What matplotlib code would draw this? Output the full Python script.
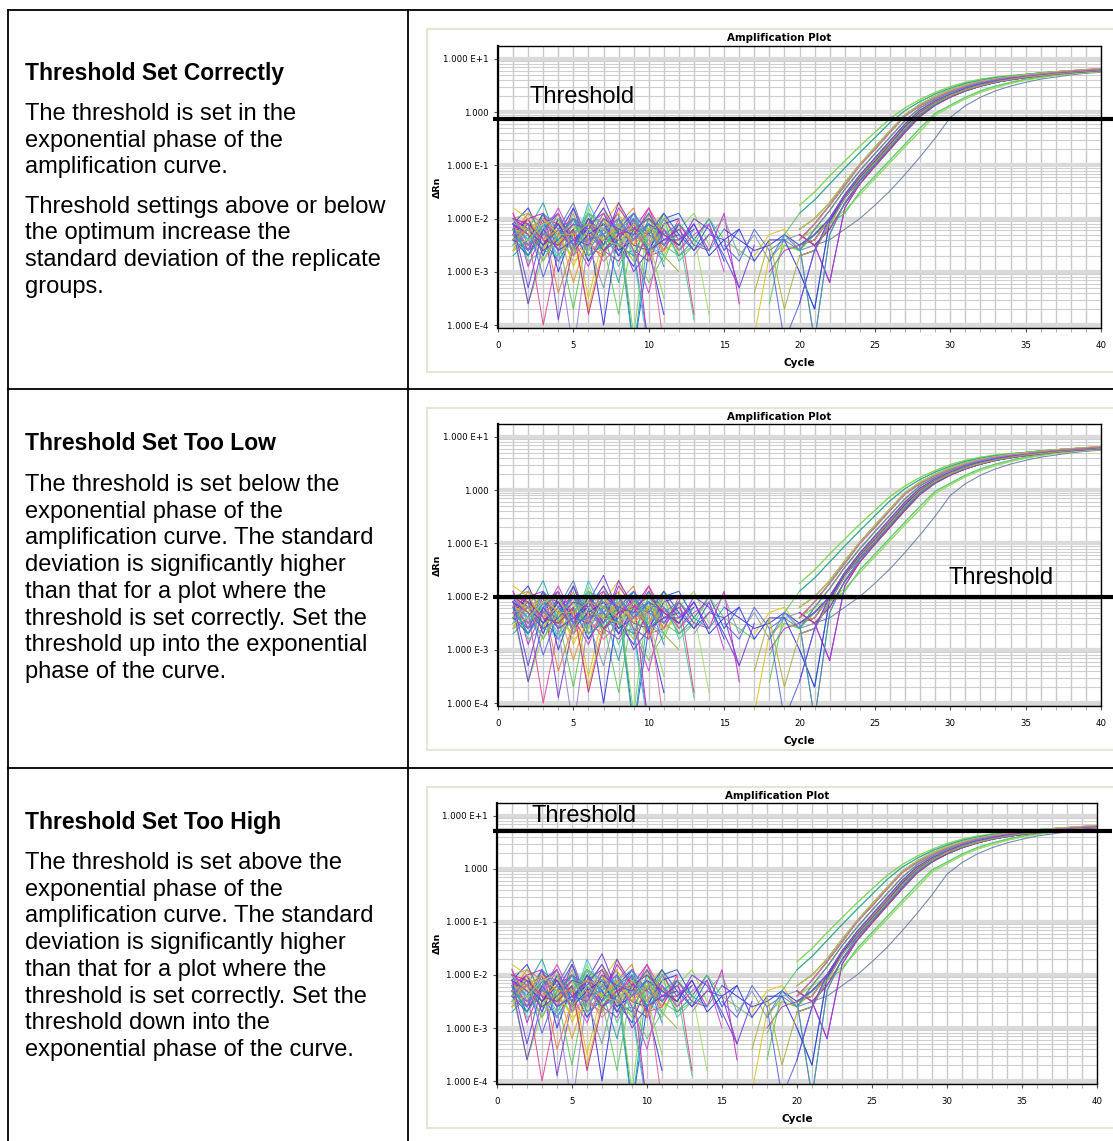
import matplotlib
matplotlib.use("Agg")
import matplotlib.pyplot as plt
import numpy as np
from matplotlib.patches import Rectangle
from matplotlib.lines import Line2D
from matplotlib.ticker import FixedLocator, FixedFormatter, LogLocator, MultipleLocator, NullFormatter

W, H = 1113, 1141
N = None

# log10(delta Rn) per cycle, baseline part (cycles 1-19); None = no value (negative signal)
baseline_log = [
    [-1.9, -2.9, -2.2, -2.6, -1.8, -2.4, -2.0, -2.7, -2.2, -1.8, -2.5, -2.1, N, N, N, N, N, N, N],
    [-2.1, -1.8, -2.4, -2.8, -2.3, -1.9, -2.1, -2.5, -2.9, -2.2, -2.6, N, N, N, N, N, N, N, N],
    [-2.3, -3.6, -2.7, -2.0, -2.6, -1.8, -2.4, -2.1, -2.5, -1.9, -2.7, -2.2, -1.9, -2.5, N, N, N, N, N],
    [-1.8, -2.0, -2.5, -2.0, -2.9, -2.3, -2.1, -1.7, -2.4, -2.7, -2.2, N, N, N, N, N, -2.7, -2.3, -2.2],
    [-2.5, -2.2, -1.7, -2.5, -2.2, -2.8, -2.3, -3.2, -2.0, -2.5, -1.9, -2.6, -2.2, N, N, N, N, N, N],
    [-2.0, -2.2, -2.0, -3.9, -2.5, -2.1, -1.9, -2.5, -2.1, -2.7, N, N, N, N, N, N, N, N, N],
    [-2.2, -2.7, -2.1, -2.3, -1.8, -2.6, -2.2, -1.9, -4.5, -2.6, -2.0, -1.9, -2.4, -2.0, -2.6, -2.2, N, N, N],
    [-2.6, -2.4, -1.9, -2.4, -3.7, -2.2, -1.8, -2.5, -2.7, -2.1, -2.5, -2.7, -2.5, N, N, N, N, -3.6, -2.3],
    [-2.0, -2.3, -4.0, -2.6, -2.0, -2.5, -2.7, -2.0, -2.4, -1.8, -2.3, N, N, N, N, N, N, N, N],
    [-2.3, -2.1, -2.6, -2.0, -2.7, -2.0, -2.5, -3.8, -2.2, -2.5, -2.8, -2.1, -2.5, -2.0, -2.4, -2.6, -2.8, N, N],
    [-2.1, -2.4, -1.9, -3.0, -2.2, -2.8, -2.4, -2.2, -1.9, -2.6, -3.8, N, N, N, N, N, N, N, N],
    [-2.4, -2.0, -2.5, -2.2, -1.7, -2.5, -2.1, -2.7, -2.6, -4.4, N, N, N, N, N, N, N, -2.6, -2.4],
    [-2.2, -2.2, -2.0, -2.5, -2.1, -3.5, -2.3, -1.9, -2.5, -2.2, -1.9, -2.7, N, N, N, N, N, N, N],
    [-2.0, -2.6, -2.1, -1.9, -2.7, -2.1, -1.6, -2.3, -2.6, -2.8, -2.2, -2.5, -2.0, -2.2, -2.7, -3.3, N, N, N],
    [-2.7, -2.4, -2.2, -2.1, -2.5, -1.9, -2.6, -2.2, -4.5, -2.2, -2.6, N, N, N, N, N, N, N, N],
    [-2.1, -2.8, -2.6, -2.7, -2.2, -2.6, -2.0, -2.5, -2.1, -2.0, -2.5, -2.3, -3.9, N, N, N, N, N, N],
    [-2.3, -1.9, -2.1, -3.4, -2.5, -2.0, -2.7, -2.1, -1.8, -2.8, -2.1, N, N, N, N, N, N, N, N],
    [-2.0, -2.2, -2.5, -2.2, -2.0, -2.3, -2.6, -2.8, -2.3, -2.1, -2.6, -2.1, -2.5, -2.6, -1.9, -3.6, N, -3.0, -2.6],
    [-2.5, -2.3, -2.8, -2.2, -2.6, -1.7, -2.3, -2.1, -2.7, -4.5, N, N, N, N, N, N, N, N, N],
    [-2.2, -2.5, -2.1, -2.6, -4.5, -2.4, -2.0, -2.6, -2.0, -2.3, -2.5, N, N, N, N, N, N, N, N],
    [-2.4, -2.6, -2.0, -2.1, -2.3, -2.1, -2.5, -1.8, -2.2, -2.5, -2.0, -2.4, -2.1, -2.6, N, N, N, N, N],
    [-2.0, -1.9, -2.3, -2.5, -1.9, -2.7, -2.3, -2.6, -2.1, -2.2, -2.7, -3.0, N, N, N, N, N, N, N],
    [-2.3, -2.0, -2.7, -2.0, -2.4, -2.2, -4.0, -2.2, -2.5, -2.6, -2.1, -2.0, N, N, -2.2, -2.4, -2.6, -2.5, -2.3],
    [-2.1, -2.2, -2.5, -2.4, -2.7, -1.9, -2.2, -2.1, -4.2, -1.9, -2.3, N, N, N, N, N, N, N, N],
    [-2.6, -2.5, -2.2, -2.3, -2.1, -2.5, -2.0, -2.3, -2.6, -2.2, -2.1, -2.6, -2.3, -3.8, N, N, N, N, N],
    [-2.2, -2.0, -1.9, -2.6, -2.4, -2.1, -2.6, -2.4, -2.0, -4.5, N, N, N, N, N, N, N, N, N],
    [-2.4, -2.7, -2.2, -1.9, -2.5, -2.0, -2.3, -2.7, -2.2, -2.3, -1.9, -2.3, -2.6, -2.1, -2.8, N, N, N, N],
    [-2.0, -2.3, -2.6, -2.1, -2.3, -3.7, -2.5, -2.2, -2.4, -2.1, -2.6, -2.4, N, N, N, N, -4.2, -2.7, -2.5],
    [-2.3, -2.5, -2.1, -2.3, -2.0, -2.4, -2.2, -2.5, -2.7, -2.0, -2.2, -2.7, -2.4, N, N, N, N, N, N],
    [-2.2, -3.6, -2.5, -2.2, -2.6, -2.0, -2.5, -1.7, -2.2, -2.6, -2.4, -2.3, N, N, N, N, N, N, N],
    [-2.5, -2.2, -2.2, -2.6, -2.1, -2.5, -3.3, -2.1, -2.3, -2.5, -2.2, N, -2.7, -2.3, -2.0, -2.7, -2.3, -2.8, -2.4],
    [-2.1, -2.6, -2.3, -2.1, -2.5, -2.4, -1.9, -2.3, -2.1, -2.7, -2.6, -2.0, -3.8, N, N, N, N, N, N],
    [-2.3, -2.1, -2.6, -2.5, -2.2, -2.1, -2.7, -2.0, -2.6, -3.2, -2.7, N, N, N, N, N, N, -3.1, -2.5],
    [-2.0, -2.4, -2.1, -2.8, -2.4, -2.6, -2.2, -2.1, -1.9, -2.5, -2.7, N, N, N, N, N, N, N, N],
    [-2.4, -2.2, -2.5, -2.1, -2.6, -2.3, -2.1, -2.6, -2.4, -2.1, -2.3, -2.5, -2.1, -2.7, -2.4, -2.2, -2.8, -2.4, -2.4],
    [-2.2, -2.3, -2.0, -2.3, -2.8, -2.6, -2.0, -2.4, -2.2, -2.5, -2.0, N, N, N, N, N, N, N, N],
    [-1.9, -2.5, -2.3, -1.8, -2.4, -2.9, -2.2, -2.0, -2.6, -3.4, -2.2, -2.6, -2.3, -2.1, -3.0, N, N, N, N],
    [-2.4, -2.1, -3.1, -2.3, -2.0, -2.2, -2.6, -2.4, -1.9, -2.3, -2.5, -2.1, N, N, -2.5, -2.8, -2.2, -2.6, -4.3],
    [-2.2, -2.4, -2.2, -2.7, -2.3, -1.9, -2.1, -2.9, -2.3, -2.4, -2.0, -2.8, -2.5, N, N, N, N, N, N],
    [-2.6, -2.0, -2.4, -2.2, -3.2, -2.3, -2.4, -2.1, -2.5, -2.2, -2.6, N, N, N, N, N, N, N, N],
    [-2.1, -2.3, -2.6, -2.4, -2.1, -2.2, -1.8, -2.3, -3.0, -2.6, -2.4, -2.2, -2.6, -2.3, -2.4, -3.3, -2.5, N, N],
    [-2.3, -2.6, -1.9, -2.2, -2.5, -2.4, -2.3, -2.0, -2.4, -2.1, -2.9, N, N, N, N, N, N, -2.8, -2.3],
    [-2.0, -2.1, -2.4, -2.5, -2.2, -3.8, -2.6, -2.3, -2.2, -2.0, -2.3, -2.5, N, N, N, N, N, N, N],
    [-2.5, -2.4, -2.1, -2.0, -2.6, -2.2, -2.4, -2.5, -2.1, -2.4, -3.5, N, N, N, N, N, N, N, N],
    [-2.2, -2.7, -2.3, -2.4, -2.0, -2.7, -2.5, -2.2, -2.0, -2.6, -2.3, -2.1, -2.4, -2.6, -2.2, N, N, N, N],
    [-2.4, -2.2, -2.8, -2.3, -2.3, -2.1, -2.2, -2.4, -2.8, -2.2, -2.1, N, N, N, N, N, -3.4, -2.4, -3.7],
    [-2.1, -3.3, -2.2, -2.6, -2.4, -2.5, -2.0, -2.2, -2.3, -1.9, -2.4, -2.4, -2.2, N, N, N, N, N, N],
    [-2.3, -2.2, -2.4, -1.9, -2.7, -2.4, -2.8, -2.5, -2.4, -2.3, -4.4, N, N, N, N, N, N, N, N],
]

# log10(delta Rn) per cycle, amplification part (cycles 20-40)
tail_log = [
    [-1.75, -1.5, -1.2, -0.92, -0.64, -0.38, -0.12, 0.08, 0.24, 0.37, 0.48, 0.56, 0.62, 0.66, 0.69, 0.71, 0.74, 0.76, 0.78, 0.79, 0.81],
    [-1.9, -1.65, -1.35, -1.05, -0.76, -0.48, -0.2, 0.03, 0.2, 0.34, 0.45, 0.54, 0.6, 0.65, 0.68, 0.71, 0.74, 0.76, 0.78, 0.79, 0.8],
    [-2.4, -2.1, -1.75, -1.38, -1.0, -0.7, -0.38, -0.07, 0.12, 0.27, 0.39, 0.49, 0.57, 0.62, 0.66, 0.69, 0.72, 0.75, 0.77, 0.79, 0.81],
    [-2.2, -2.0, -1.7, -1.33, -0.98, -0.66, -0.35, -0.05, 0.15, 0.3, 0.42, 0.51, 0.58, 0.63, 0.67, 0.7, 0.73, 0.76, 0.78, 0.8, 0.82],
    [-2.6, -2.2, -1.85, -1.45, -1.1, -0.78, -0.47, -0.16, 0.08, 0.24, 0.37, 0.47, 0.55, 0.61, 0.65, 0.69, 0.72, 0.74, 0.76, 0.78, 0.8],
    [-2.5, -2.4, -2.0, -1.55, -1.2, -0.9, -0.58, -0.24, 0.02, 0.2, 0.33, 0.44, 0.52, 0.58, 0.63, 0.67, 0.7, 0.73, 0.76, 0.78, 0.8],
    [-2.5, -2.3, -2.0, -1.6, -1.28, -0.98, -0.68, -0.35, -0.05, 0.14, 0.29, 0.4, 0.49, 0.56, 0.61, 0.65, 0.69, 0.72, 0.74, 0.76, 0.78],
    [-2.7, -2.6, -2.1, -1.62, -1.25, -0.95, -0.63, -0.3, -0.02, 0.17, 0.31, 0.42, 0.5, 0.57, 0.62, 0.66, 0.69, 0.72, 0.75, 0.77, 0.79],
    [-2.3, -2.5, -2.2, -1.72, -1.35, -1.02, -0.7, -0.38, -0.08, 0.13, 0.28, 0.4, 0.49, 0.56, 0.61, 0.65, 0.68, 0.71, 0.74, 0.76, 0.78],
    [-2.4, -2.2, -2.05, -1.85, -1.55, -1.25, -0.95, -0.65, -0.36, -0.06, 0.1, 0.25, 0.37, 0.46, 0.54, 0.6, 0.65, 0.69, 0.72, 0.74, 0.76],
    [-2.6, -2.3, -2.1, -1.9, -1.5, -1.2, -0.9, -0.6, -0.3, -0.02, 0.13, 0.28, 0.4, 0.49, 0.56, 0.62, 0.66, 0.7, 0.73, 0.75, 0.77],
    [-2.6, -2.5, -2.4, -2.2, -2.0, -1.75, -1.48, -1.17, -0.84, -0.49, -0.1, 0.12, 0.28, 0.4, 0.49, 0.56, 0.62, 0.66, 0.7, 0.73, 0.75],
    [-2.3, -2.5, -3.2, -1.8, -1.35, -1.0, -0.68, -0.36, -0.06, 0.14, 0.29, 0.4, 0.49, 0.56, 0.61, 0.65, 0.69, 0.72, 0.74, 0.76, 0.78],
    [-3.0, -3.7, -2.05, -1.6, -1.22, -0.92, -0.6, -0.27, 0.0, 0.18, 0.32, 0.43, 0.51, 0.58, 0.63, 0.67, 0.7, 0.73, 0.75, 0.77, 0.79],
    [-2.5, -4.3, -2.3, -1.7, -1.3, -0.98, -0.66, -0.34, -0.05, 0.15, 0.3, 0.41, 0.5, 0.57, 0.62, 0.66, 0.69, 0.72, 0.75, 0.77, 0.79],
    [-3.6, -2.6, -2.0, -1.55, -1.18, -0.86, -0.54, -0.22, 0.04, 0.21, 0.34, 0.45, 0.53, 0.59, 0.64, 0.68, 0.71, 0.74, 0.76, 0.78, 0.8],
]

curve_tail = [2, 6, 0, 4, 8, 5, 12, 1, 3, 9, 7, 11, 2, 6, 13, 10, 4, 5, 8, 7, 3, 2, 6, 0,
              9, 12, 5, 4, 1, 7, 8, 2, 10, 6, 13, 3, 14, 15, 2, 5, 6, 4, 8, 3, 14, 7, 15, 2]
curve_colors = [
    "#c82cc8", "#3a3ae0", "#8fd65a", "#e0c41c", "#2aa6a6", "#7a3fd6", "#2a5ae0", "#5cc85c",
    "#e04a9a", "#66cc66", "#3a3ae0", "#6a7fa8", "#e0c41c", "#7a3fd6", "#2aa6a6", "#4ad08a",
    "#e0804a", "#c82cc8", "#3ec0e0", "#a080d0", "#c82cc8", "#9ab04a", "#3a3ae0", "#7ed957",
    "#a6e06a", "#c82cc8", "#2a5ae0", "#e0c41c", "#2aa6a6", "#7a3fd6", "#8a9ab0", "#e04a9a",
    "#66cc66", "#3ec0e0", "#3a3ae0", "#e0c41c", "#d04ad0", "#5a6ae0", "#50c8a0", "#e0a030",
    "#7a3fd6", "#3a8ae0", "#c82c8c", "#8fd65a", "#2aa6a6", "#b0b040", "#6a4ae0", "#e06aa0",
]

cycles = np.arange(1, 41)
thresholds = [0.74, 0.0097, 5.2]
label_pos = [(2.1, 1.9), (29.9, 0.022), (2.3, 10.0)]

ytick_vals = [1e1, 1e0, 1e-1, 1e-2, 1e-3, 1e-4]
ytick_labels = ["1.000 E+1", "1.000", "1.000 E-1", "1.000 E-2", "1.000 E-3", "1.000 E-4"]
xtick_vals = [0, 5, 10, 15, 20, 25, 30, 35, 40]

headings = ["Threshold Set Correctly", "Threshold Set Too Low", "Threshold Set Too High"]
bodies = [
    ["The threshold is set in the", "exponential phase of the", "amplification curve.", "",
     "Threshold settings above or below", "the optimum increase the",
     "standard deviation of the replicate", "groups."],
    ["The threshold is set below the", "exponential phase of the", "amplification curve. The standard",
     "deviation is significantly higher", "than that for a plot where the",
     "threshold is set correctly. Set the", "threshold up into the exponential", "phase of the curve."],
    ["The threshold is set above the", "exponential phase of the", "amplification curve. The standard",
     "deviation is significantly higher", "than that for a plot where the",
     "threshold is set correctly. Set the", "threshold down into the", "exponential phase of the curve."],
]

# layout in pixels
row_heading_y = [80, 450, 829]
row_body_y = [[120, 146.5, 173, N, 213, 239.5, 266, 293],
              [491, 517.7, 544.4, 571, 597.8, 624.5, 651.2, 678],
              [869, 895.7, 922.4, 949, 975.8, 1002.5, 1029.2, 1056]]
axes_px = [(498, 46, 1101, 328), (498, 424, 1101, 706), (497, 803, 1097, 1084)]
frame_px = [(427, 29, 1135, 372), (427, 408, 1135, 750), (427, 787, 1135, 1128)]
title_px = [(779, 38), (779, 417), (777, 796)]


def fx(px):
    return px / W


def fy(py):
    return 1 - py / H


fig = plt.figure(figsize=(W / 100, H / 100), dpi=100)
fig.patch.set_facecolor("white")

# table lines
table_lines = [((8, 8), (10, H)), ((408, 408), (10, H)), ((8, W), (10, 10)),
               ((8, W), (389, 389)), ((8, W), (768, 768))]
for xs, ys in table_lines:
    fig.add_artist(Line2D([fx(v) for v in xs], [fy(v) for v in ys], color="black", lw=1.3))

text_font = ["Liberation Sans", "DejaVu Sans"]

for r in range(3):
    fig.text(fx(25), fy(row_heading_y[r]), headings[r], fontsize=16.5, fontweight="bold",
             family=text_font, va="baseline", ha="left")
    for line, yb in zip(bodies[r], row_body_y[r]):
        if yb is None:
            continue
        fig.text(fx(25), fy(yb), line, fontsize=17, family=text_font, va="baseline", ha="left")

    x0, y0, x1, y1 = frame_px[r]
    fig.add_artist(Rectangle((fx(x0), fy(y1)), fx(x1 - x0), (y1 - y0) / H,
                             facecolor="white", edgecolor="#e9e5d6", lw=1.5, zorder=0))

    a0, b0, a1, b1 = axes_px[r]
    ax = fig.add_axes([fx(a0), fy(b1), fx(a1 - a0), (b1 - b0) / H])
    ax.set_yscale("log")
    ax.set_xlim(0, 40)
    ax.set_ylim(8.8e-5, 17.5)
    ax.set_axisbelow(True)

    ax.yaxis.set_major_locator(FixedLocator(ytick_vals))
    ax.yaxis.set_major_formatter(FixedFormatter(ytick_labels))
    ax.yaxis.set_minor_locator(LogLocator(base=10, subs=np.arange(2, 10)))
    ax.yaxis.set_minor_formatter(NullFormatter())
    ax.xaxis.set_major_locator(FixedLocator(xtick_vals))
    ax.xaxis.set_minor_locator(MultipleLocator(1))

    ax.grid(which="major", axis="y", color="#dadada", lw=3)
    ax.grid(which="minor", axis="y", color="#cfcfcf", lw=0.8)
    ax.grid(which="both", axis="x", color="#c8c8c8", lw=1.0)

    ax.tick_params(axis="both", which="major", labelsize=6.2, length=3, width=0.8, color="#555555")
    ax.tick_params(axis="y", which="major", pad=4)
    ax.tick_params(axis="x", which="major", pad=6)
    ax.tick_params(axis="y", which="minor", length=0)
    ax.tick_params(axis="x", which="minor", length=3, width=0.6, color="#aaaaaa")
    for lab in ax.get_xticklabels() + ax.get_yticklabels():
        lab.set_family("DejaVu Sans")

    for sp in ax.spines.values():
        sp.set_color("black")
        sp.set_linewidth(1.0)
    ax.spines["left"].set_linewidth(1.6)

    for i, base in enumerate(baseline_log):
        vals = np.array(base + tail_log[curve_tail[i]], dtype=float)
        ax.plot(cycles, 10 ** vals, color=curve_colors[i], lw=0.75, alpha=0.95)

    ax.plot([-0.3, 41], [thresholds[r], thresholds[r]], color="black", lw=3,
            clip_on=False, zorder=6, solid_capstyle="butt")
    lx, ly = label_pos[r]
    ax.text(lx, ly, "Threshold", fontsize=17, family=text_font, va="center", ha="left", zorder=7)

    tx, ty = title_px[r]
    fig.text(fx(tx), fy(ty), "Amplification Plot", fontsize=7.4, fontweight="bold",
             family="DejaVu Sans", ha="center", va="center")
    fig.text(fx((a0 + a1) / 2), fy(b1 + 35), "Cycle", fontsize=7.6, fontweight="bold",
             family="DejaVu Sans", ha="center", va="center")
    fig.text(fx(437), fy((b0 + b1) / 2), "ΔRn", fontsize=6.8, fontweight="bold",
             family="DejaVu Sans", ha="center", va="center", rotation=90)

fig.savefig("out.png", dpi=100, facecolor="white")
